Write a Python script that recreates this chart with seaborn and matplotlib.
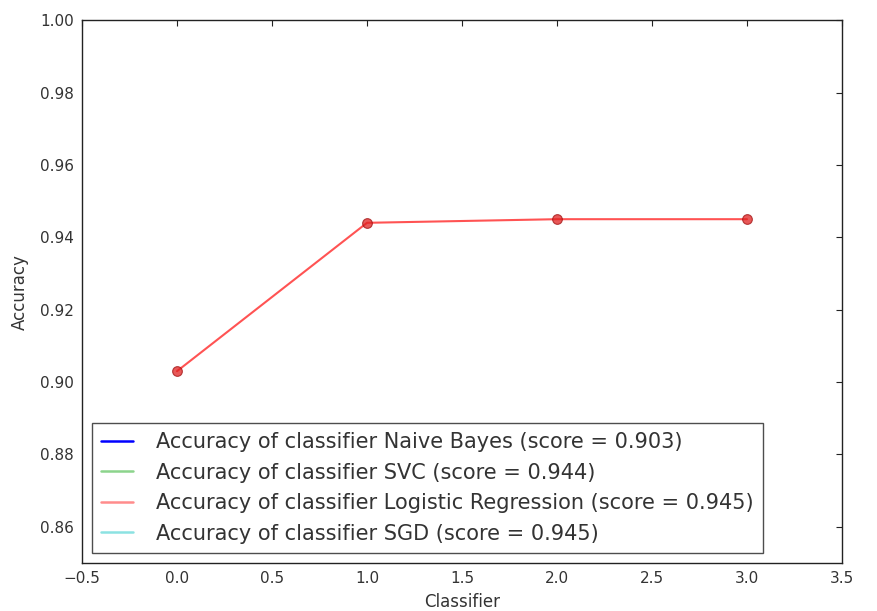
import matplotlib
matplotlib.use("Agg")
import matplotlib.pyplot as plt
from matplotlib.lines import Line2D
import pandas as pd
import seaborn as sns

classifiers = ["Naive Bayes", "SVC", "Logistic Regression", "SGD"]
scores = [0.903, 0.944, 0.945, 0.945]
legend_colors = ["#0000ff", "#00a000", "#ff0000", "#00bfbf"]
legend_alphas = [1.0, 0.45, 0.45, 0.45]
x_ticks = [-0.5, 0.0, 0.5, 1.0, 1.5, 2.0, 2.5, 3.0, 3.5]
y_ticks = [0.86, 0.88, 0.90, 0.92, 0.94, 0.96, 0.98, 1.00]

sns.set_theme(style="white")
plt.rcParams["font.family"] = ["DejaVu Sans"]

df = pd.DataFrame({"Classifier": range(len(scores)), "Accuracy": scores})

fig = plt.figure(figsize=(8.78, 6.11), dpi=100)
ax = fig.add_axes([0.0934, 0.0786, 0.8656, 0.8884])

sns.lineplot(data=df, x="Classifier", y="Accuracy", ax=ax, color="#ff1a1a",
             alpha=0.75, linewidth=1.5, marker="o", markersize=7,
             markerfacecolor="#e02020", markeredgecolor="#a01010",
             markeredgewidth=0.8)

ax.set_xlim(-0.5, 3.5)
ax.set_ylim(0.85, 1.00)
ax.set_xticks(x_ticks)
ax.set_yticks(y_ticks)
ax.set_xticklabels(["\u22120.5" if t < 0 else f"{t:.1f}" for t in x_ticks])
ax.set_yticklabels([f"{t:.2f}" for t in y_ticks])
ax.tick_params(direction="in", length=4, width=0.8, top=True, right=True,
               labelsize=11, colors="#222222", labelcolor="#333333", pad=6)
ax.set_xlabel("Classifier", fontsize=12, color="#333333", labelpad=5)
ax.set_ylabel("Accuracy", fontsize=12, color="#333333", labelpad=8)
for s in ax.spines.values():
    s.set_color("#222222")
    s.set_linewidth(1.0)

handles = [Line2D([0], [0], color=c, alpha=a, linewidth=1.8)
           for c, a in zip(legend_colors, legend_alphas)]
labels = [f"Accuracy of classifier {n} (score = {s:.3f})"
          for n, s in zip(classifiers, scores)]
leg = ax.legend(handles, labels, loc="lower left", fontsize=15,
                frameon=True, fancybox=False, borderaxespad=0.48,
                handlelength=1.5, handletextpad=1.1, labelspacing=0.5,
                borderpad=0.45)
leg.get_frame().set_edgecolor("#222222")
leg.get_frame().set_linewidth(1.0)
for t in leg.get_texts():
    t.set_color("#333333")

fig.savefig("out.png", dpi=100)
